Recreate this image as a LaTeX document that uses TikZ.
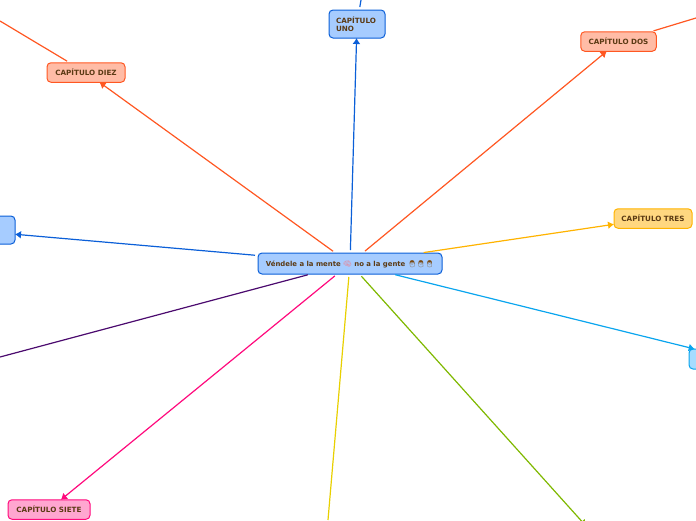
\documentclass[tikz,border=0pt]{standalone}
\usepackage{fontspec}
\setmainfont{DejaVu Sans}
\newfontfamily\emojifont{Noto Emoji}
\usetikzlibrary{arrows.meta}
\definecolor{txt}{HTML}{5B3A14}
\definecolor{bl}{HTML}{0B5FD8}\definecolor{blf}{HTML}{A6CCFF}
\definecolor{or}{HTML}{FF5722}\definecolor{orf}{HTML}{FFBCA6}
\definecolor{ye}{HTML}{FFB300}\definecolor{yef}{HTML}{FFD780}
\definecolor{lb}{HTML}{0AA5EE}\definecolor{lbf}{HTML}{A6DCFF}
\definecolor{pk}{HTML}{FF0A7D}\definecolor{pkf}{HTML}{FFA6D0}
\definecolor{pu}{HTML}{4B0A6E}\definecolor{yl}{HTML}{E8D000}\definecolor{gr}{HTML}{7FB800}
\definecolor{brain}{HTML}{EE7F8E}\definecolor{man}{HTML}{7A4A12}
\tikzset{
  x=1pt,y=-1pt,
  topic/.style n args={2}{draw=#1,fill=#2,line width=1pt,rounded corners=4pt,text=txt,
    font=\bfseries\fontsize{7.2}{9}\selectfont,inner sep=0pt,outer sep=0pt,align=left},
  oneline/.style={text height=5.3pt,text depth=0pt},
  link/.style={line width=1.2pt,shorten <=3pt},
  tip/.style={-{Latex[length=6pt,width=8pt]}}
}
\begin{document}
\begin{tikzpicture}
\useasboundingbox (0,0) rectangle (696,520);
\node[topic={bl}{blf},oneline,minimum width=184pt,minimum height=21pt,font=\bfseries\fontsize{6.9}{9}\selectfont] (root) at (350,263.5)
  {Véndele a la mente {\emojifont\textcolor{brain}{🧠}} no a la gente {\emojifont\textcolor{man}{👨👨👨}}};
\node[topic={bl}{blf},minimum width=56pt,minimum height=28pt,text width=42pt] (uno) at (357,24) {CAPÍTULO\\[-1pt]UNO};
\node[topic={or}{orf},oneline,minimum width=75.5pt,minimum height=19.5pt] (dos) at (618.5,41.5) {CAPÍTULO DOS};
\node[topic={ye}{yef},oneline,minimum width=78pt,minimum height=19.5pt] (tres) at (653,218.5) {CAPÍTULO TRES};
\node[topic={or}{orf},oneline,minimum width=78pt,minimum height=19.5pt] (diez) at (86,72.5) {CAPÍTULO DIEZ};
\node[topic={pk}{pkf},oneline,minimum width=82pt,minimum height=19.5pt] (siete) at (49,509.5) {CAPÍTULO SIETE};
\node[topic={bl}{blf},minimum width=98pt,minimum height=28pt] (left) at (-34,230) {};
\node[topic={lb}{lbf},minimum width=92pt,minimum height=20pt] (right) at (735,359) {};
\coordinate (upuno) at (361,0);
\coordinate (updos) at (696,18);
\coordinate (updiez) at (0,21);
\coordinate (purple) at (0,357);
\coordinate (yellow) at (328,520);
\coordinate (green) at (586,526);
\draw[link,tip,bl] (root) -- (uno);
\draw[link,tip,or] (root) -- (dos);
\draw[link,tip,ye] (root) -- (tres);
\draw[link,tip,lb] (root) -- (right);
\draw[link,tip,bl] (root) -- (left);
\draw[link,tip,or] (root) -- (diez);
\draw[link,tip,pk] (root) -- (siete);
\draw[link,pu] (root) -- (purple);
\draw[link,yl] (root) -- (yellow);
\draw[link,tip,gr] (root) -- (green);
\draw[link,bl] (uno) -- (upuno);
\draw[link,or] (dos) -- (updos);
\draw[link,or] (diez) -- (updiez);
\end{tikzpicture}
\end{document}
